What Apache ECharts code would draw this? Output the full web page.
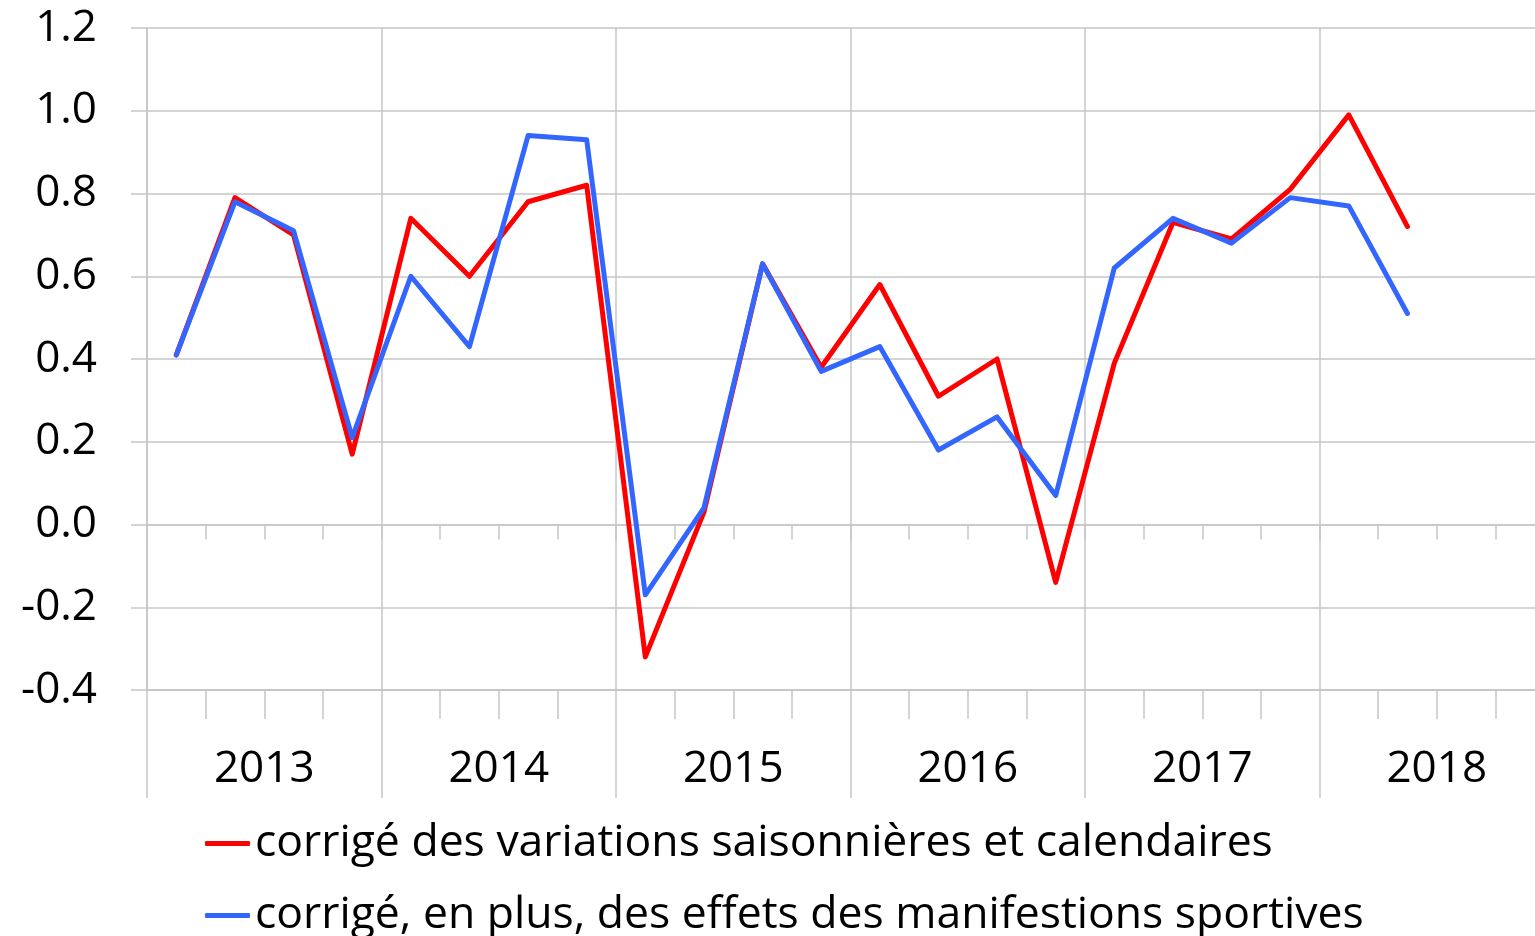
<!DOCTYPE html>
<html>
<head>
<meta charset="utf-8">
<script src="https://cdn.jsdelivr.net/npm/echarts@6/dist/echarts.min.js"></script>
<style>
  html, body { margin: 0; padding: 0; background: #fff; }
  #main { width: 1535px; height: 936px; }
</style>
</head>
<body>
<div id="main"></div>
<script>
// trimestres 2013T1 .. 2018T4
var QUARTERS = [
  '2013T1', '2013T2', '2013T3', '2013T4',
  '2014T1', '2014T2', '2014T3', '2014T4',
  '2015T1', '2015T2', '2015T3', '2015T4',
  '2016T1', '2016T2', '2016T3', '2016T4',
  '2017T1', '2017T2', '2017T3', '2017T4',
  '2018T1', '2018T2', '2018T3', '2018T4'
]
var YEARS = ['2013', '2014', '2015', '2016', '2017', '2018']

// CVS-CJO
var CVS = [0.41, 0.79, 0.70, 0.17, 0.74, 0.60, 0.78, 0.82, -0.32, 0.03, 0.63, 0.38,
  0.58, 0.31, 0.40, -0.14, 0.39, 0.73, 0.69, 0.81, 0.99, 0.72]
// corrigé des manifestations sportives
var SPORT = [0.41, 0.78, 0.71, 0.21, 0.60, 0.43, 0.94, 0.93, -0.17, 0.04, 0.63, 0.37,
  0.43, 0.18, 0.26, 0.07, 0.62, 0.74, 0.68, 0.79, 0.77, 0.51]

var NAME_RED = 'corrigé des variations saisonnières et calendaires'
var NAME_BLUE = 'corrigé, en plus, des effets des manifestions sportives'

var GREY = '#c6c6c6'
var FONT = 'Open Sans'

var chart = echarts.init(document.getElementById('main'), null, { renderer: 'canvas' })

function legendItem(name, top) {
  return {
    orient: 'horizontal',
    left: 205,
    top: top,
    padding: 0,
    itemWidth: 45,
    itemHeight: 5,
    icon: 'roundRect',
    textStyle: { fontFamily: FONT, fontSize: 44.5, color: '#000' },
    data: [name]
  }
}

var option = {
  backgroundColor: '#ffffff',
  animation: false,
  color: ['#ff0000', '#3366ff'],
  grid: {
    left: 147,
    top: 28,
    width: 1407,
    height: 662,
    containLabel: false,
    outerBoundsMode: 'none'
  },
  legend: [legendItem(NAME_RED, 821), legendItem(NAME_BLUE, 893)],
  xAxis: [{
    // axe sur le zéro
    type: 'category',
    data: QUARTERS,
    position: 'bottom',
    boundaryGap: true,
    axisLine: { onZero: true, lineStyle: { color: GREY, width: 1.5 } },
    axisTick: { show: true, interval: 0, length: 15, lineStyle: { color: GREY, width: 1.5 } },
    axisLabel: { show: false },
    splitLine: { show: false }
  }, {
    // trimestres en bas
    type: 'category',
    data: QUARTERS,
    position: 'bottom',
    boundaryGap: true,
    axisLine: { onZero: false, lineStyle: { color: GREY, width: 1.5 } },
    axisTick: { show: true, interval: 0, length: 29, lineStyle: { color: GREY, width: 1.5 } },
    axisLabel: { show: false },
    splitLine: { show: false }
  }, {
    // années
    type: 'category',
    data: YEARS,
    position: 'bottom',
    boundaryGap: true,
    axisLine: { onZero: false, lineStyle: { color: GREY, width: 1.5 } },
    axisTick: { show: true, interval: 0, length: 108, lineStyle: { color: GREY, width: 1.5 } },
    axisLabel: { interval: 0, margin: 57, fontFamily: FONT, fontSize: 44, color: '#000' },
    splitLine: { show: true, interval: 0, lineStyle: { color: GREY, width: 1.5 } }
  }],
  yAxis: {
    type: 'value',
    min: -0.4,
    max: 1.2,
    interval: 0.2,
    axisLine: { show: true, lineStyle: { color: GREY, width: 1.5 } },
    axisTick: { show: true, length: 16, lineStyle: { color: GREY, width: 1.5 } },
    axisLabel: {
      margin: 50,
      fontFamily: FONT,
      fontSize: 44,
      color: '#000',
      formatter: function (v) { return v.toFixed(1) }
    },
    splitLine: { lineStyle: { color: GREY, width: 1.5 } }
  },
  series: [{
    name: NAME_RED,
    type: 'line',
    xAxisIndex: 0,
    data: CVS,
    symbol: 'none',
    lineStyle: { width: 5, cap: 'round', join: 'round' }
  }, {
    name: NAME_BLUE,
    type: 'line',
    xAxisIndex: 0,
    data: SPORT,
    symbol: 'none',
    lineStyle: { width: 5, cap: 'round', join: 'round' }
  }]
}

chart.setOption(option)
</script>
</body>
</html>
